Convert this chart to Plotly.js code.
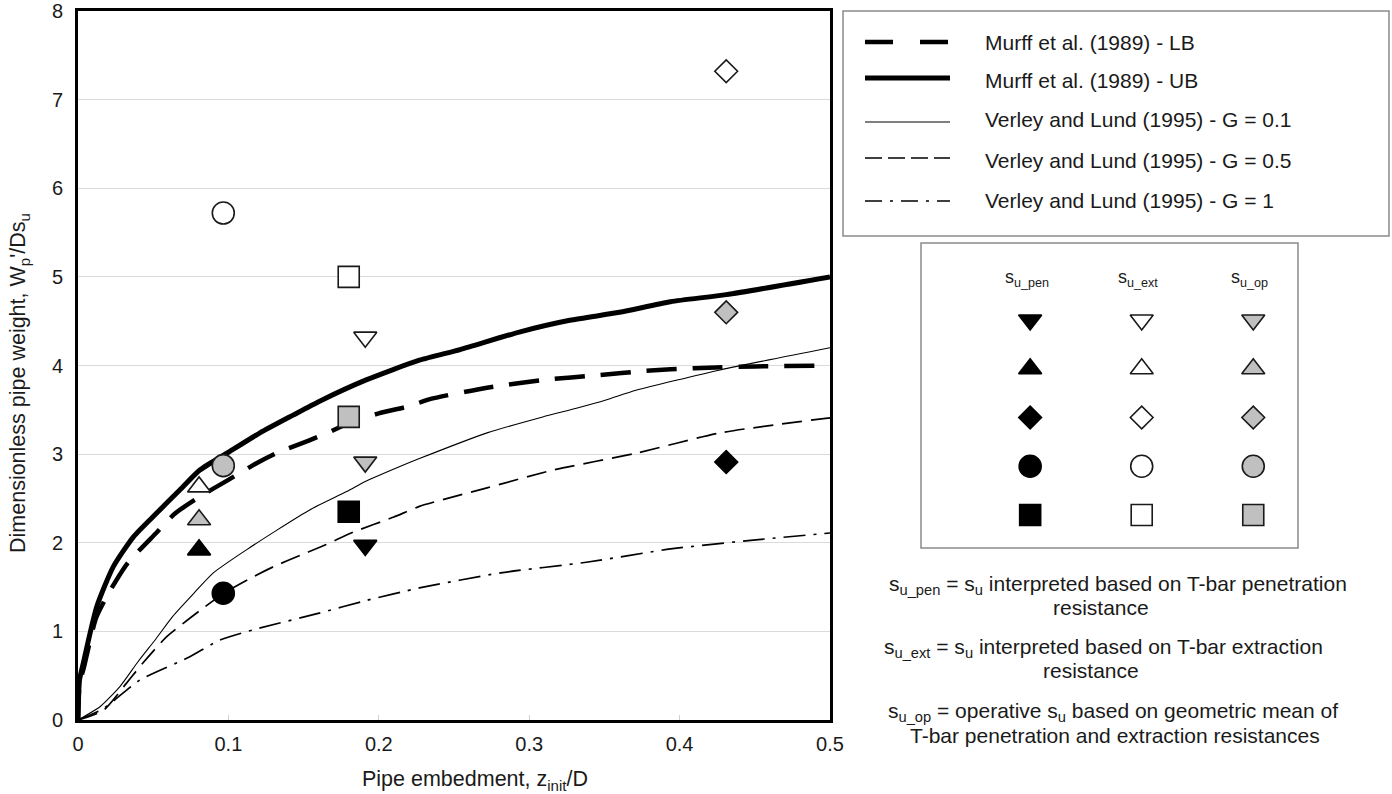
<!DOCTYPE html>
<html>
<head>
<meta charset="utf-8">
<script src="https://cdn.plot.ly/plotly-3.0.1.min.js"></script>
<style>html,body{margin:0;padding:0;background:#fff;}#chart{width:1392px;height:794px;}</style>
</head>
<body>
<div id="chart"></div>
<script>
// ---------- Data ----------
// Murff et al. (1989) - upper bound
var murffUB_x = [0, 0.001, 0.0035, 0.0125, 0.0235, 0.037, 0.052, 0.068, 0.081, 0.099, 0.121, 0.143, 0.161, 0.192, 0.227, 0.254, 0.294, 0.327, 0.36, 0.394, 0.431, 0.5];
var murffUB_y = [0, 0.45, 0.64, 1.28, 1.73, 2.07, 2.33, 2.60, 2.82, 3.01, 3.24, 3.44, 3.60, 3.84, 4.06, 4.18, 4.38, 4.51, 4.60, 4.72, 4.80, 5.00];
// Murff et al. (1989) - lower bound
var murffLB_x = [0, 0.001, 0.004, 0.012, 0.02, 0.033, 0.052, 0.0645, 0.081, 0.1, 0.119, 0.133, 0.153, 0.166, 0.18, 0.2, 0.22, 0.234, 0.272, 0.311, 0.345, 0.378, 0.41, 0.45, 0.5];
var murffLB_y = [0, 0.40, 0.60, 1.15, 1.42, 1.77, 2.11, 2.33, 2.52, 2.71, 2.90, 3.02, 3.15, 3.24, 3.35, 3.46, 3.54, 3.62, 3.75, 3.84, 3.89, 3.94, 3.97, 3.99, 4.00];
// Verley and Lund (1995) - G = 0.1
var vlG01_x = [0, 0.0146, 0.028, 0.04, 0.052, 0.063, 0.077, 0.09, 0.112, 0.132, 0.154, 0.179, 0.191, 0.214, 0.227, 0.272, 0.309, 0.332, 0.351, 0.371, 0.427, 0.5];
var vlG01_y = [0, 0.15, 0.38, 0.66, 0.92, 1.17, 1.43, 1.66, 1.92, 2.14, 2.37, 2.58, 2.69, 2.86, 2.95, 3.24, 3.42, 3.52, 3.61, 3.72, 3.95, 4.20];
// Verley and Lund (1995) - G = 0.5
var vlG05_x = [0, 0.017, 0.032, 0.043, 0.059, 0.083, 0.097, 0.117, 0.13, 0.148, 0.165, 0.183, 0.21, 0.227, 0.272, 0.316, 0.371, 0.427, 0.5];
var vlG05_y = [0, 0.11, 0.41, 0.64, 0.94, 1.26, 1.43, 1.62, 1.73, 1.86, 1.98, 2.12, 2.29, 2.41, 2.62, 2.82, 3.01, 3.24, 3.41];
// Verley and Lund (1995) - G = 1
var vlG1_x = [0, 0.017, 0.041, 0.074, 0.094, 0.117, 0.159, 0.192, 0.227, 0.281, 0.338, 0.394, 0.449, 0.5];
var vlG1_y = [0, 0.13, 0.45, 0.71, 0.90, 1.02, 1.20, 1.35, 1.49, 1.66, 1.78, 1.93, 2.03, 2.11];

// Test sites and measurements
var sites = ['JIP2', 'JIP3', 'WA1', 'WA2', 'WA5'];
var siteSymbols = ['triangle-down', 'triangle-up', 'diamond', 'circle', 'square'];
var siteSizes = [20, 20, 17.5, 22, 21];
var embedment = [0.191, 0.0805, 0.431, 0.0966, 0.18];
var weight_su_pen = [1.97, 1.92, 2.91, 1.43, 2.35];
var weight_su_ext = [4.32, 2.63, 7.32, 5.72, 5.00];
var weight_su_op  = [2.91, 2.26, 4.60, 2.87, 3.42];

var strengthCols = ['s<sub>u_pen</sub>', 's<sub>u_ext</sub>', 's<sub>u_op</sub>'];
var xTickVals = [0, 0.1, 0.2, 0.3, 0.4, 0.5];
var yTickVals = [0, 1, 2, 3, 4, 5, 6, 7, 8];

var lineNames = ['Murff et al. (1989) - LB', 'Murff et al. (1989) - UB', 'Verley and Lund (1995) - G = 0.1', 'Verley and Lund (1995) - G = 0.5', 'Verley and Lund (1995) - G = 1'];
var notes = [
  's<sub>u_pen</sub> = s<sub>u</sub> interpreted based on T-bar penetration',
  'resistance',
  's<sub>u_ext</sub> = s<sub>u</sub> interpreted based on T-bar extraction',
  'resistance',
  's<sub>u_op</sub> = operative s<sub>u</sub> based on geometric mean of',
  'T-bar penetration and extraction resistances'
];

// ---------- Layout helpers ----------
var W = 1392, H = 794;
var M = {l: 78, r: 2, t: 11, b: 74};
var PW = W - M.l - M.r, PH = H - M.t - M.b;
function px(x) { return (x - M.l) / PW; }
function py(y) { return (H - M.b - y) / PH; }

var FONT = 'Liberation Sans, Arial, Helvetica, sans-serif';
var TXT = '#1a1a1a';
var GRAY = '#c0c0c0';

var lineStyles = [
  {color: '#000', width: 4.5, dash: '30px,16px'},
  {color: '#000', width: 5, dash: 'solid'},
  {color: '#000', width: 1.1, dash: 'solid'},
  {color: '#000', width: 1.7, dash: '20px,9px'},
  {color: '#000', width: 1.7, dash: '22px,8px,3px,8px'}
];
var legendDash = ['28px,27px', 'solid', 'solid', '17px,6px', '17px,8px,3px,8px'];
var lineXs = [murffLB_x, murffUB_x, vlG01_x, vlG05_x, vlG1_x];
var lineYs = [murffLB_y, murffUB_y, vlG01_y, vlG05_y, vlG1_y];

var traces = [];
var order = [4, 3, 2, 0, 1];
order.forEach(function (i) {
  traces.push({
    x: lineXs[i], y: lineYs[i], type: 'scatter', mode: 'lines', name: lineNames[i],
    line: {color: lineStyles[i].color, width: lineStyles[i].width, dash: lineStyles[i].dash, shape: 'spline', smoothing: 0.6},
    showlegend: false, hoverinfo: 'skip', cliponaxis: true
  });
});

var colFill = ['#000000', '#ffffff', GRAY];
var colLine = ['#000000', '#1a1a1a', '#1a1a1a'];
var colValues = [weight_su_pen, weight_su_ext, weight_su_op];
for (var c = 0; c < 3; c++) {
  traces.push({
    x: embedment, y: colValues[c], type: 'scatter', mode: 'markers',
    name: strengthCols[c], text: sites,
    marker: {symbol: siteSymbols, size: siteSizes, opacity: 1, color: colFill[c], line: {color: colLine[c], width: 1.6}},
    showlegend: false, cliponaxis: false
  });
}
// symbol table (legend) on hidden axes
for (var c2 = 0; c2 < 3; c2++) {
  traces.push({
    x: sites.map(function () { return c2; }),
    y: sites.map(function (s, k) { return k; }),
    type: 'scatter', mode: 'markers', xaxis: 'x2', yaxis: 'y2',
    marker: {symbol: siteSymbols, size: siteSizes, opacity: 1, color: colFill[c2], line: {color: colLine[c2], width: 1.6}},
    showlegend: false, hoverinfo: 'skip', cliponaxis: false
  });
}

var shapes = [];
var annotations = [];
shapes.push({type: 'rect', xref: 'paper', yref: 'paper', x0: px(843), x1: px(1389), y0: py(11), y1: py(236),
  line: {color: '#8a8a8a', width: 1.5}, fillcolor: 'rgba(0,0,0,0)', layer: 'above'});
var legLineY = [42, 78, 122, 158, 201];
var legTextY = [42, 81, 120, 160, 200];
for (var i = 0; i < 5; i++) {
  shapes.push({type: 'line', xref: 'paper', yref: 'paper', x0: px(865), x1: px(950), y0: py(legLineY[i]), y1: py(legLineY[i]),
    line: {color: '#000', width: lineStyles[i].width, dash: legendDash[i]}});
  annotations.push({xref: 'paper', yref: 'paper', x: px(983), y: py(legTextY[i]), xanchor: 'left', yanchor: 'middle',
    text: lineNames[i], showarrow: false, font: {family: FONT, size: 21, color: TXT}});
}
shapes.push({type: 'rect', xref: 'paper', yref: 'paper', x0: px(921), x1: px(1298), y0: py(243), y1: py(548),
  line: {color: '#8a8a8a', width: 1.5}, fillcolor: 'rgba(0,0,0,0)', layer: 'below'});
for (var c3 = 0; c3 < 3; c3++) {
  annotations.push({xref: 'x2', yref: 'y2', x: c3 - 0.03, y: -0.86, text: strengthCols[c3], showarrow: false,
    xanchor: 'center', yanchor: 'middle', font: {family: FONT, size: 18, color: TXT}});
}
sites.forEach(function (s, k) {
  annotations.push({xref: 'x2', yref: 'y2', x: -0.475, y: k, text: s, showarrow: false,
    xanchor: 'left', yanchor: 'middle', font: {family: FONT, size: 20.5, color: TXT}});
});
var noteX = [1118, 1101, 1103, 1091, 1113, 1115];
var noteY = [585, 607, 648, 670, 712, 735];
notes.forEach(function (t, k) {
  annotations.push({xref: 'paper', yref: 'paper', x: px(noteX[k]), y: py(noteY[k]), text: t, showarrow: false,
    xanchor: 'center', yanchor: 'middle', font: {family: FONT, size: 21, color: TXT}});
});
annotations.push({xref: 'paper', yref: 'paper', x: px(475), y: py(780), text: 'Pipe embedment, z<sub>init</sub>/D',
  showarrow: false, xanchor: 'center', yanchor: 'middle', font: {family: FONT, size: 21.5, color: TXT}});
annotations.push({xref: 'paper', yref: 'paper', x: px(19), y: py(383), text: "Dimensionless pipe weight, W<sub>p</sub>'/Ds<sub>u</sub>",
  textangle: -90, showarrow: false, xanchor: 'center', yanchor: 'middle', font: {family: FONT, size: 21.5, color: TXT}});

var layout = {
  width: W, height: H,
  margin: M,
  paper_bgcolor: '#fff', plot_bgcolor: '#fff',
  showlegend: false,
  font: {family: FONT, color: TXT},
  xaxis: {
    domain: [0, px(830)], range: [0, 0.5], tickvals: xTickVals, ticktext: xTickVals.map(String),
    showline: true, mirror: true, linecolor: '#000', linewidth: 3,
    showgrid: false, zeroline: false, ticks: 'inside', ticklen: 5, tickcolor: '#cfcfcf', tickwidth: 1,
    tickfont: {family: FONT, size: 20, color: TXT}, ticklabelstandoff: 4, fixedrange: true
  },
  yaxis: {
    domain: [0, 1], range: [0, 8.0001], tickvals: yTickVals, ticktext: yTickVals.map(String),
    showline: true, mirror: true, linecolor: '#000', linewidth: 3,
    showgrid: true, gridcolor: '#dadada', gridwidth: 1, zeroline: false, ticks: '',
    tickfont: {family: FONT, size: 20, color: TXT}, ticklabelstandoff: 8, fixedrange: true
  },
  xaxis2: {domain: [px(990), px(1299)], range: [-0.36, 2.41], visible: false, anchor: 'y2', fixedrange: true},
  yaxis2: {domain: [py(544.25), py(251.75)], range: [4.6, -1.4], visible: false, anchor: 'x2', fixedrange: true},
  shapes: shapes,
  annotations: annotations
};

Plotly.newPlot('chart', traces, layout, {displayModeBar: false, staticPlot: true});
</script>
</body>
</html>
